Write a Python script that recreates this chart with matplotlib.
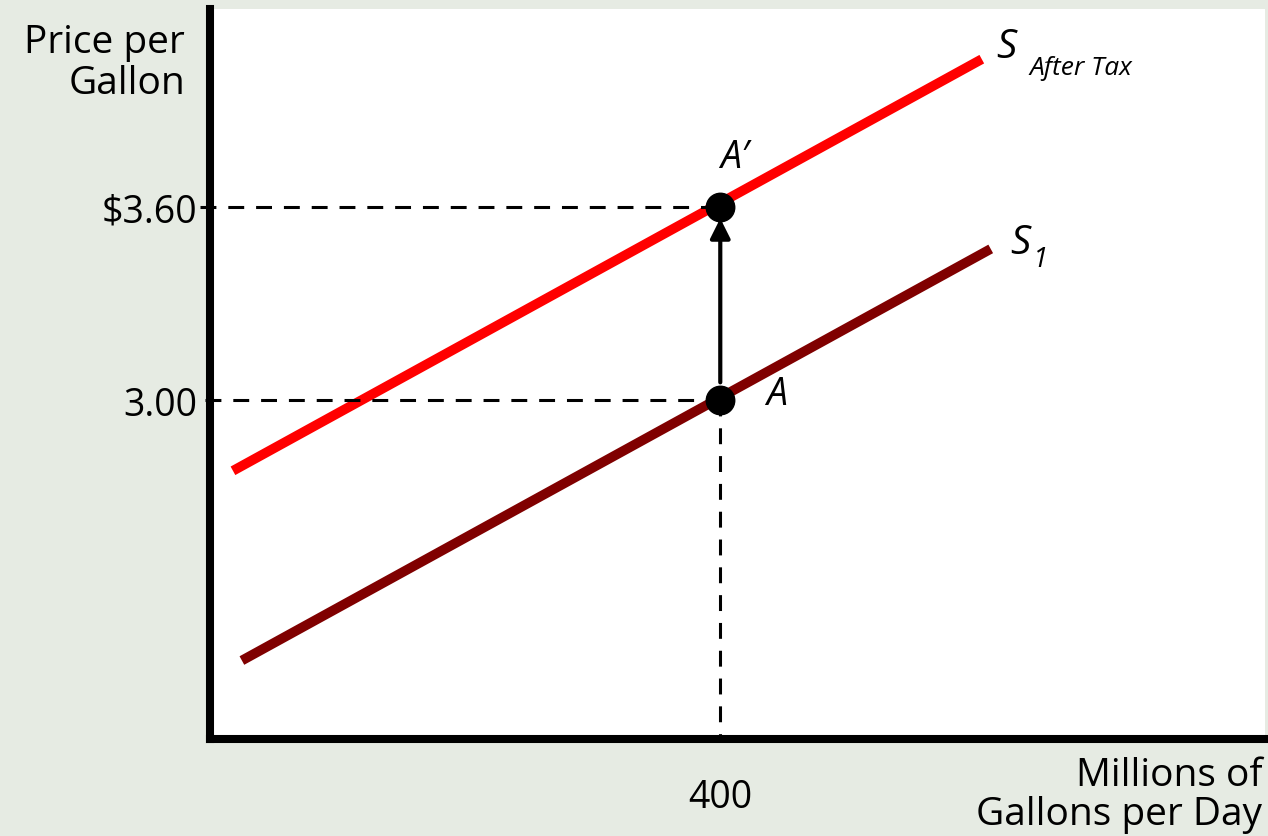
import matplotlib
matplotlib.use('Agg')
import matplotlib.pyplot as plt

# supply curves (quantity, price) end points
s1_q = [25, 612]
s1_p = [2.19, 3.47]
tax_q = [18, 605]
tax_p = [2.78, 4.06]

# equilibrium points
q_eq = 400
p_before = 3.00
p_after = 3.60

y_ticks = [3.00, 3.60]
y_tick_labels = ['3.00', r'\$3.60']
x_ticks = [400]
x_tick_labels = ['400']

plt.rcParams['font.family'] = ['Open Sans', 'DejaVu Sans']
bg = '#e6ebe3'

fig = plt.figure(figsize=(12.68, 8.37), dpi=100, facecolor=bg)
ax = fig.add_axes([210/1268, 97/837, 1055/1268, 730/837])
ax.set_xlim(0, 827)
ax.set_ylim(1.946, 4.216)

for side in ['top', 'right']:
    ax.spines[side].set_visible(False)
for side in ['left', 'bottom']:
    ax.spines[side].set_linewidth(5.8)
    ax.spines[side].set_capstyle('projecting')

ax.plot(s1_q, s1_p, color='#800000', lw=7, solid_capstyle='butt')
ax.plot(tax_q, tax_p, color='#ff0000', lw=7, solid_capstyle='butt')

dash = dict(color='black', lw=2.2, dashes=(5.2, 3.9), clip_on=False)
ax.plot([-8, q_eq], [p_after, p_after], **dash)
ax.plot([-4, q_eq], [p_before, p_before], **dash)
ax.plot([q_eq, q_eq], [p_before, 1.946], **dash)

ax.annotate('', xy=(q_eq, p_after - 0.035), xytext=(q_eq, p_before + 0.055),
            arrowprops=dict(arrowstyle='-|>,head_length=0.6,head_width=0.3',
                            color='black', lw=3, mutation_scale=20,
                            shrinkA=0, shrinkB=0))

ax.plot([q_eq, q_eq], [p_before, p_after], 'o', color='black', ms=20.5, zorder=5)

ax.set_yticks(y_ticks)
ax.set_yticklabels(y_tick_labels)
ax.set_xticks(x_ticks)
ax.set_xticklabels(x_tick_labels)
ax.tick_params(axis='both', length=0, labelsize=27)
ax.tick_params(axis='y', pad=9)
ax.tick_params(axis='x', pad=28)

ax.text(411, 3.755, 'A\u2032', fontsize=27, style='italic', ha='center', va='center')
ax.text(436, 3.02, 'A', fontsize=27, style='italic', ha='left', va='center')
ax.text(616, 4.1, 'S', fontsize=29, style='italic', ha='left', va='center')
ax.text(642, 4.035, 'After Tax', fontsize=19, style='italic', ha='left', va='center')
ax.text(627, 3.49, 'S', fontsize=29, style='italic', ha='left', va='center')
ax.text(645, 3.44, '1', fontsize=20, style='italic', ha='left', va='center')

fig.text(185/1268, 1 - 24/837, 'Price per\nGallon', fontsize=28, ha='right', va='top',
         linespacing=1.12)
fig.text(1262/1268, 1 - 834/837, 'Millions of\nGallons per Day', fontsize=28,
         ha='right', va='bottom', linespacing=1.05)

fig.savefig('out.png', dpi=100, facecolor=bg)
